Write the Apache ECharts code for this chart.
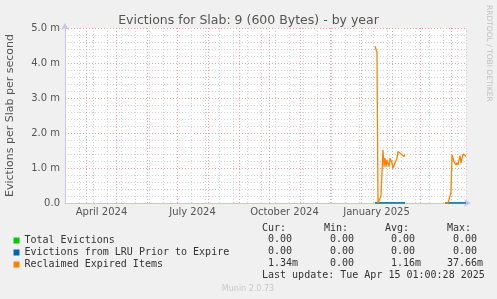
<!DOCTYPE html>
<html>
<head>
<meta charset="utf-8">
<script src="https://cdn.jsdelivr.net/npm/echarts@6/dist/echarts.min.js"></script>
<style>
html,body{margin:0;padding:0;background:#f0f0f0;}
#c{width:497px;height:299px;}
</style>
</head>
<body>
<div id="c"></div>
<script>
// ---- data ----
const startDate = '2024-03-11';
const endDate = '2025-04-16';
const monthStarts = ['2024-04-01','2024-05-01','2024-06-01','2024-07-01','2024-08-01','2024-09-01',
  '2024-10-01','2024-11-01','2024-12-01','2025-01-01','2025-02-01','2025-03-01','2025-04-01'];
const xTickLabels = ['April 2024','July 2024','October 2024','January 2025'];
const xTickDates = ['2024-04-16T12:00:00Z','2024-07-16T12:00:00Z','2024-10-16T12:00:00Z','2025-01-16T12:00:00Z'];
const yTicks = [0,1,2,3,4,5];

const seriesNames = ['Total Evictions','Evictions from LRU Prior to Expire','Reclaimed Expired Items'];
const seriesColors = ['#00cc00','#0066b3','#ff8000'];

const segAStart = '2025-01-15';
const segBStart = '2025-03-26';
const totalA = [0,0,0,0,0,0,0,0,0,0,0,0,0,0,0,0,0,0,0,0,0,0,0,0,0,0,0,0,0,0,0];
const totalB = [0,0,0,0,0,0,0,0,0,0,0,0,0,0,0,0,0,0,0,0,0,0];
const lruA = [0,0,0,0,0,0,0,0,0,0,0,0,0,0,0,0,0,0,0,0,0,0,0,0,0,0,0,0,0,0,0];
const lruB = [0,0,0,0,0,0,0,0,0,0,0,0,0,0,0,0,0,0,0,0,0,0];
const reclaimedA = [4.48,4.43,4.30,0,0,0,0.2,0.9,1.52,1.04,1.28,1.04,1.23,1.14,1.04,1.28,1.28,1.14,0.99,1.04,
  1.14,1.14,1.28,1.47,1.47,1.47,1.40,1.35,1.40,1.33,1.39];
const reclaimedB = [0,0,0,0,0,0,0.3,1.38,1.28,1.18,1.15,1.09,1.15,1.09,1.23,1.35,1.14,1.28,1.40,1.35,1.40,1.34];

const curVals = ['0.00','0.00','1.34m'];
const minVals = ['0.00','0.00','0.00'];
const avgVals = ['0.00','0.00','1.16m'];
const maxVals = ['0.00','0.00','37.66m'];
const lastUpdate = 'Last update: Tue Apr 15 01:00:28 2025';

// ---- helpers ----
const DAY = 864e5;
const dayOf = s => (Date.parse(s.length === 10 ? s + 'T00:00:00Z' : s) - Date.parse(startDate + 'T00:00:00Z')) / DAY;
function build(a, b) {
  const pa = a.map((v, i) => [dayOf(segAStart) + i, v]);
  const pb = b.map((v, i) => [dayOf(segBStart) + i, v]);
  return pa.concat([[dayOf(segAStart) + a.length, '-']], pb);
}
const xMax = dayOf(endDate);
const labelDays = xTickDates.map(dayOf);

const mono = "'DejaVu Sans Mono', monospace";
const sans = "'DejaVu Sans', sans-serif";
const gridRed = '#eaa2a2';
const gridGrey = '#d2d2d2';
const axisCol = '#c4c4f0';

function fmtVal(s) {
  const m = s.match(/^([\d.]+)(.*)$/);
  return m[1].padStart(6, ' ') + m[2];
}

const graphics = [];
const colHeaderX = [262, 324, 385, 447];
const colFieldX = [256, 318, 379, 441];
['Cur:','Min:','Avg:','Max:'].forEach((h, i) => {
  graphics.push({type:'text', x: colHeaderX[i], y: 228, style:{text:h, font:'10px ' + mono, fill:'#333', textVerticalAlign:'middle'}});
});
const rowsY = [239.5, 251.5, 263.5];
[curVals, minVals, avgVals, maxVals].forEach((col, ci) => {
  col.forEach((v, ri) => {
    graphics.push({type:'text', x: colFieldX[ci], y: rowsY[ri], style:{text: fmtVal(v), font:'10px ' + mono, fill:'#333', textVerticalAlign:'middle'}});
  });
});
graphics.push({type:'text', x: 262, y: 275.7, style:{text:lastUpdate, font:'10px ' + mono, fill:'#333', textVerticalAlign:'middle'}});
graphics.push({type:'text', x: 248, y: 288.5, style:{text:'Munin 2.0.73', font:'8px ' + sans, fill:'#c8c8c8', textAlign:'center', textVerticalAlign:'middle'}});
graphics.push({type:'text', x: 488.5, y: 5, rotation: -Math.PI/2, style:{text:'RRDTOOL / TOBI OETIKER', font:'7.5px ' + sans, fill:'#c0c0c0', textAlign:'left', textVerticalAlign:'middle'}});

const chart = echarts.init(document.getElementById('c'), null, {renderer:'canvas'});
chart.setOption({
  backgroundColor: '#f0f0f0',
  animation: false,
  title: {
    text: 'Evictions for Slab: 9 (600 Bytes) - by year',
    left: 'center', top: 9,
    textStyle: {fontFamily: sans, fontSize: 12.5, fontWeight: 'normal', color: '#555'}
  },
  grid: {left: 65, top: 28, width: 401, height: 175, show: true, backgroundColor: '#ffffff', borderWidth: 0,
    containLabel: false, outerBoundsMode: 'none'},
  legend: {
    orient: 'vertical', left: 13.5, top: 234.5, icon: 'rect', itemWidth: 6, itemHeight: 6, itemGap: 0,
    selectedMode: false, padding: 0,
    textStyle: {fontFamily: mono, fontSize: 10, color: '#333', lineHeight: 12},
    data: seriesNames
  },
  xAxis: {
    type: 'value', min: 0, max: xMax, interval: 14,
    axisLine: {show: true, lineStyle: {color: axisCol, width: 1}, symbol: ['none','arrow'], symbolSize: [6, 7], symbolOffset: [0, 5]},
    axisTick: {show: false},
    splitLine: {show: true, lineStyle: {color: gridGrey, type: [1, 2], width: 1}},
    axisLabel: {
      customValues: labelDays,
      margin: 4,
      fontFamily: sans, fontSize: 10, color: '#555',
      formatter: v => {
        let best = 0;
        labelDays.forEach((d, i) => { if (Math.abs(d - v) < Math.abs(labelDays[best] - v)) best = i; });
        return xTickLabels[best];
      }
    }
  },
  yAxis: {
    type: 'value', min: yTicks[0], max: yTicks[yTicks.length - 1], interval: 1,
    name: 'Evictions per Slab per second', nameLocation: 'middle', nameGap: 49, nameRotate: 90,
    nameTextStyle: {fontFamily: sans, fontSize: 11, color: '#555'},
    axisLine: {show: true, lineStyle: {color: axisCol, width: 1}, symbol: ['none','arrow'], symbolSize: [6, 7], symbolOffset: [0, 5]},
    axisTick: {show: false},
    axisLabel: {margin: 5, fontFamily: sans, fontSize: 10, color: '#555',
      formatter: v => v === 0 ? '0.0' : v.toFixed(1) + ' m'},
    splitLine: {show: true, lineStyle: {color: gridRed, type: [1, 2], width: 1}},
    minorTick: {show: false, splitNumber: 5},
    minorSplitLine: {show: true, lineStyle: {color: gridGrey, type: [1, 2], width: 1}}
  },
  graphic: graphics,
  series: [
    {
      name: seriesNames[0], type: 'line', data: build(totalA, totalB), showSymbol: false, symbol: 'none',
      color: seriesColors[0], lineStyle: {width: 1, color: seriesColors[0]}, connectNulls: false, z: 2,
      markLine: {
        silent: true, symbol: ['none','none'], label: {show: false},
        lineStyle: {color: gridRed, type: [1, 2], width: 1},
        emphasis: {disabled: true},
        data: monthStarts.map(d => ({xAxis: dayOf(d)}))
      }
    },
    {
      name: seriesNames[1], type: 'line', data: build(lruA, lruB), showSymbol: false, symbol: 'none',
      color: seriesColors[1], lineStyle: {width: 1.6, color: seriesColors[1]}, connectNulls: false, z: 10
    },
    {
      name: seriesNames[2], type: 'line', data: build(reclaimedA, reclaimedB), showSymbol: false, symbol: 'none',
      color: seriesColors[2], lineStyle: {width: 1.3, color: seriesColors[2]}, connectNulls: false, z: 20
    }
  ]
});
</script>
</body>
</html>
